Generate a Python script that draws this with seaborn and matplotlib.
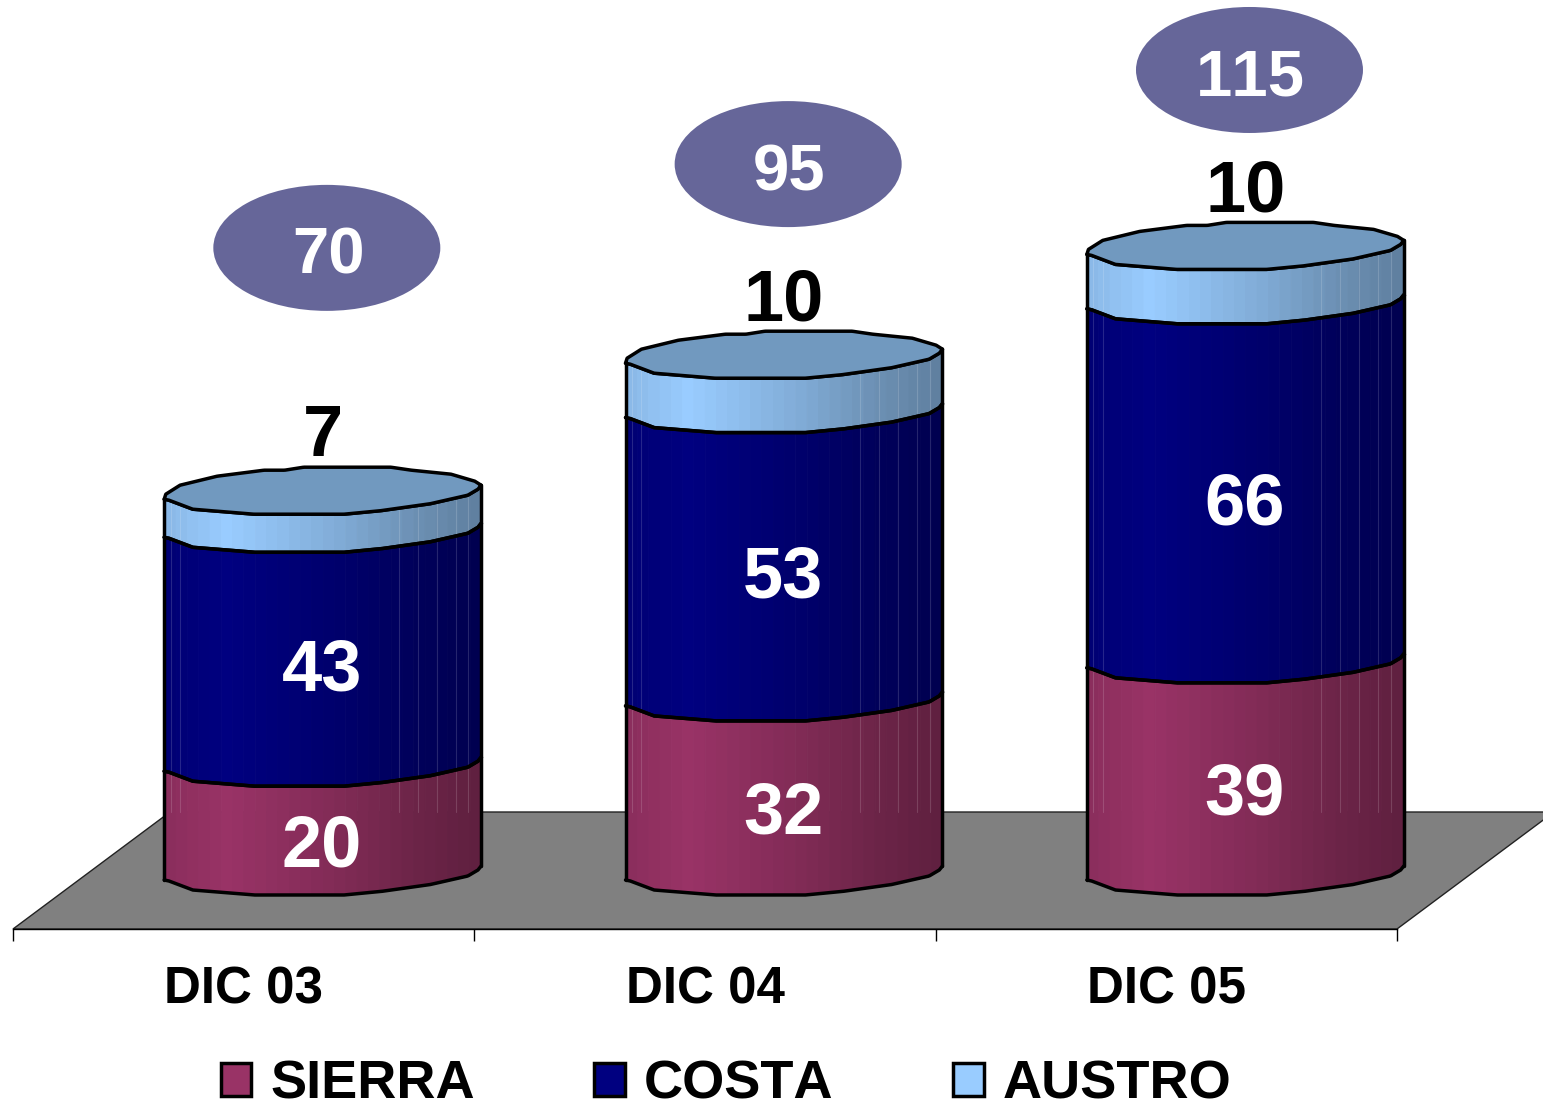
import numpy as np
import pandas as pd
import matplotlib
matplotlib.use('Agg')
import matplotlib.pyplot as plt
from matplotlib.patches import Ellipse, Patch, Polygon
from matplotlib.transforms import Affine2D
import seaborn as sns

# values
periods = ['DIC 03', 'DIC 04', 'DIC 05']
regions = ['SIERRA', 'COSTA', 'AUSTRO']
sierra = [20, 32, 39]
costa = [43, 53, 66]
austro = [7, 10, 10]
totals = [70, 95, 115]

region_colours = ['#993366', '#000080', '#99CCFF']
label_colours = ['white', 'white', 'black']
lid_colour = '#7199BF'
badge_colour = '#666699'
floor_colour = '#808080'

# pixel sizes of the fake 3D look
PX_PER_UNIT = 5.44
DEPTH_X, DEPTH_Y = 79, 49
FLOOR_DX, FLOOR_DY = 157, 117
BAR_WIDTH = 0.687
EDGE_LW = 2.5

# wobbly outline of the cylinder, offset in px along the bar width
front_t = [0, .015, .09, .167, .283, .567, .683, .84, .958, .99, 1]
front_px = [0, -1, -10, -12, -15, -15, -11.5, -4.5, 4, 10, 14]
back_t = [0, .005, .05, .167, .315, .38, .44, .715, .78, .905, .98, 1]
back_px = [0, 5, 14, 23, 29, 29, 32, 32, 29, 25, 18, 14]

shade_t = [0, .2, .55, .8, 1]
shade = [.9, 1, .84, .7, .62]
seam_t = [.02, .05, .74, .8, .86, .92, .96]
badge_y = [116.2, 131.6, 148.9]

sns.set_theme(style='white')
plt.rcParams['font.family'] = ['Liberation Sans', 'DejaVu Sans']
plt.rcParams['text.kerning_factor'] = 6

fig = plt.figure(figsize=(15.43, 11.04), dpi=100)
ax = fig.add_axes([13 / 1543, 175 / 1104, 1384 / 1543, 929 / 1104])

df = pd.DataFrame({'period': periods, 'SIERRA': sierra, 'COSTA': costa, 'AUSTRO': austro})
bottoms = np.zeros(len(periods))
for region, colour in zip(regions, region_colours):
    sns.barplot(data=df, x='period', y=region, order=periods, color=colour,
                bottom=bottoms, width=BAR_WIDTH, errorbar=None, ax=ax)
    bottoms = bottoms + df[region].values

ax.set_xlim(-0.5, 2.5)
ax.set_ylim(0, 929 / PX_PER_UNIT)
ax.set_xlabel('')
ax.set_ylabel('')
ax.set_yticks([])
ax.patch.set_visible(False)
sns.despine(ax=ax, left=True)
ax.spines['bottom'].set_color('black')
ax.spines['bottom'].set_linewidth(1.0)

ax.set_xticks([0, 1, 2], periods)
ax.set_xticks([-0.5, 0.5, 1.5, 2.5], minor=True)
ax.tick_params(axis='x', which='major', length=0, pad=26, labelsize=36.8, labelcolor='black')
ax.tick_params(axis='x', which='minor', length=8.5, width=1.0, color='black', bottom=True)
for lab in ax.get_xticklabels():
    lab.set_fontweight('bold')

# floor of the 3D box
unit_x = ax.get_window_extent().width / 3
floor = Polygon([(-0.5, 0), (2.5, 0),
                 (2.5 + FLOOR_DX / unit_x, FLOOR_DY / PX_PER_UNIT),
                 (-0.5 + FLOOR_DX / unit_x, FLOOR_DY / PX_PER_UNIT)],
                facecolor=floor_colour, edgecolor='#222222', linewidth=1.0,
                clip_on=False, zorder=1)
ax.add_patch(floor)

# everything on the cylinders sits back from the axis by the depth offset
depth = ax.transData + Affine2D().translate(DEPTH_X, DEPTH_Y)
floor_back = (FLOOR_DY - DEPTH_Y) / PX_PER_UNIT


def front_curve(t):
    return np.interp(t, front_t, front_px) / PX_PER_UNIT


def back_curve(t):
    return np.interp(t, back_t, back_px) / PX_PER_UNIT


def draw_segment(bar, colour, seam_floor=None):
    """One stacked bar drawn as a shaded slice of cylinder."""
    bar.set_visible(False)
    x0, w = bar.get_x(), bar.get_width()
    y0, y1 = bar.get_y(), bar.get_y() + bar.get_height()
    rgb = np.array(matplotlib.colors.to_rgb(colour))

    edges = np.linspace(0, 1, 29)
    for a, b in zip(edges[:-1], edges[1:]):
        t = np.linspace(a, b, 5)
        c = rgb * np.interp((a + b) / 2, shade_t, shade)
        ax.fill_between(x0 + t * w, y0 + front_curve(t), y1 + front_curve(t),
                        facecolor=c, edgecolor=c, linewidth=0.6, antialiased=False,
                        transform=depth, clip_on=False, zorder=3)

    # thin light facet seams
    for t in seam_t:
        low = y0 + front_curve(t)
        if seam_floor is not None:
            low = max(low, seam_floor)
        ax.plot([x0 + t * w] * 2, [low, y1 + front_curve(t)], color='white',
                alpha=0.15, linewidth=0.8, transform=depth, clip_on=False, zorder=4)

    t = np.linspace(0, 1, 200)
    ax.plot(x0 + t * w, y0 + front_curve(t), color='black', linewidth=EDGE_LW,
            transform=depth, clip_on=False, zorder=5)
    ax.plot(x0 + t * w, y1 + front_curve(t), color='black', linewidth=EDGE_LW,
            transform=depth, clip_on=False, zorder=5)
    for xe in (x0, x0 + w):
        ax.plot([xe, xe], [y0 + front_curve((xe - x0) / w), y1 + front_curve((xe - x0) / w)],
                color='black', linewidth=EDGE_LW, transform=depth, clip_on=False, zorder=5)


def draw_lid(bar):
    x0, w = bar.get_x(), bar.get_width()
    y1 = bar.get_y() + bar.get_height()
    t = np.linspace(0, 1, 200)
    xs = np.r_[x0 + t * w, x0 + t[::-1] * w]
    ys = np.r_[y1 + front_curve(t), y1 + back_curve(t[::-1])]
    lid = Polygon(np.c_[xs, ys], closed=True, facecolor=lid_colour, edgecolor='black',
                  linewidth=EDGE_LW, joinstyle='round', transform=depth, clip_on=False, zorder=6)
    ax.add_patch(lid)


label_drop = [-22, -17]
for k, (region, colour, txt_col) in enumerate(zip(regions, region_colours, label_colours)):
    for i, bar in enumerate(ax.containers[k]):
        draw_segment(bar, colour, seam_floor=floor_back if k == 0 else None)
        if k == 2:
            draw_lid(bar)
            # AUSTRO sits above the lid, in black
            ax.text(bar.get_x() + bar.get_width() / 2, bar.get_y() + bar.get_height(),
                    str(df[region][i]), color=txt_col, fontsize=52, fontweight='bold',
                    ha='center', va='center', zorder=7, clip_on=False,
                    transform=depth + Affine2D().translate(0, 62))
        else:
            ax.text(bar.get_x() + bar.get_width() / 2, bar.get_y() + bar.get_height() / 2,
                    str(df[region][i]), color=txt_col, fontsize=52, fontweight='bold',
                    ha='center', va='center', zorder=7, clip_on=False,
                    transform=depth + Affine2D().translate(-1, label_drop[k]))

# total badges
for i, total in enumerate(totals):
    ax.add_patch(Ellipse((i + 0.009, badge_y[i]), 227 / unit_x, 126 / PX_PER_UNIT,
                         facecolor=badge_colour, edgecolor='none',
                         transform=depth, clip_on=False, zorder=8))
    ax.text(i + 0.012, badge_y[i], str(total), color='white', fontsize=47, fontweight='bold',
            ha='center', va='center', zorder=9, clip_on=False,
            transform=depth + Affine2D().translate(0, -9))

handles = [Patch(facecolor=c, edgecolor='black', linewidth=EDGE_LW, label=r)
           for r, c in zip(regions, region_colours)]
fig.legend(handles=handles, loc='lower center', bbox_to_anchor=(726 / 1543, -33 / 1104), ncol=3,
           frameon=False, prop={'size': 39, 'weight': 'bold'}, labelcolor='black',
           handlelength=0.57, handleheight=0.57, handletextpad=0.35, columnspacing=2.2,
           borderpad=0, labelspacing=0)

fig.savefig('out.png', dpi=100)
